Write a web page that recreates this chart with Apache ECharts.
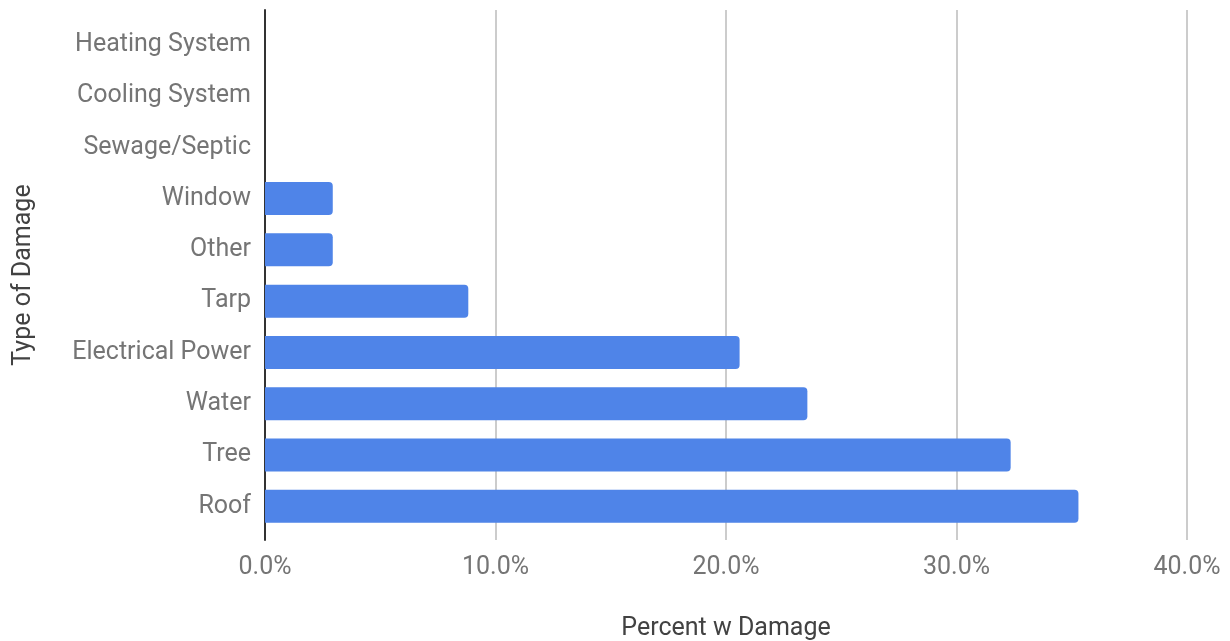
<!DOCTYPE html>
<html>
<head>
<meta charset="utf-8">
<script src="https://cdn.jsdelivr.net/npm/echarts@6/dist/echarts.min.js"></script>
<style>
  html, body { margin: 0; padding: 0; background: #fff; }
  #chart { width: 1230px; height: 641px; }
</style>
</head>
<body>
<div id="chart"></div>
<script>
// categories, bottom to top as echarts draws a category y axis
const categories = ['Roof', 'Tree', 'Water', 'Electrical Power', 'Tarp', 'Other', 'Window', 'Sewage/Septic', 'Cooling System', 'Heating System'];
const percentDamage = [0.3529, 0.3235, 0.2353, 0.2059, 0.0882, 0.0294, 0.0294, 0, 0, 0];
const xTicks = [0, 0.1, 0.2, 0.3, 0.4];

const font = 'Roboto, "Noto Sans", sans-serif';
const gray = '#757575';

var myChart = echarts.init(document.getElementById('chart'), null, { renderer: 'canvas' });

let option = {
    animation: false,
    textStyle: { fontFamily: font },
    grid: [
        // bars
        { left: 265, right: 43, top: 19, bottom: 109, outerBoundsMode: 'none', containLabel: false },
        // frame: gridlines, baseline and tick labels
        { left: 265, right: 43, top: 10, bottom: 101, outerBoundsMode: 'none', containLabel: false }
    ],
    xAxis: [
        {
            gridIndex: 0, type: 'value', min: 0, max: 0.4, interval: 0.1,
            show: false
        },
        {
            gridIndex: 1, type: 'value', min: xTicks[0], max: xTicks[xTicks.length - 1], interval: 0.1,
            axisLine: { show: false },
            axisTick: { show: false },
            splitLine: { show: true, lineStyle: { color: '#cccccc', width: 2 } },
            axisLabel: {
                color: gray, fontSize: 25, margin: 15,
                formatter: v => (v * 100).toFixed(1) + '%'
            },
            name: 'Percent w Damage',
            nameLocation: 'middle',
            nameGap: 76,
            nameTextStyle: { color: '#424242', fontSize: 25 }
        }
    ],
    yAxis: [
        {
            gridIndex: 0, type: 'category', data: categories,
            axisLine: { show: false },
            axisTick: { show: false },
            axisLabel: { color: gray, fontSize: 25, margin: 14 }
        },
        {
            gridIndex: 1, type: 'value', min: 0, max: 1,
            axisLine: { show: true, onZero: false, lineStyle: { color: '#333', width: 2 } },
            axisTick: { show: false },
            axisLabel: { show: false },
            splitLine: { show: false },
            name: 'Type of Damage',
            nameLocation: 'middle',
            nameGap: 229,
            nameRotate: 90,
            nameTextStyle: { color: '#424242', fontSize: 25 }
        }
    ],
    series: [
        {
            type: 'bar',
            xAxisIndex: 0,
            yAxisIndex: 0,
            data: percentDamage,
            barWidth: 33,
            itemStyle: { color: '#4f84e8', borderRadius: [0, 4, 4, 0] },
            z: 3
        }
    ]
};

option && myChart.setOption(option);
</script>
</body>
</html>
